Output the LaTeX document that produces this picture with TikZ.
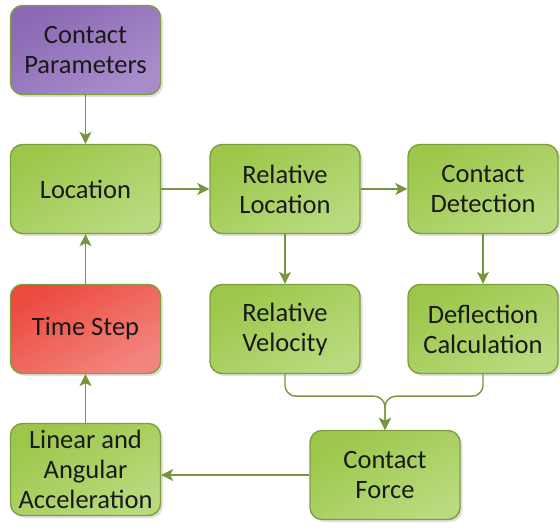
\documentclass[tikz,border=0pt]{standalone}
\usepackage{fontspec}
\setmainfont{Carlito}
\usepackage{tikz}
\usetikzlibrary{arrows.meta}
\usetikzlibrary{shadows}

\definecolor{edgegreen}{HTML}{7F9E3E}
\definecolor{linegreen}{HTML}{77953A}
\definecolor{boxgreenA}{HTML}{9CC74A}
\definecolor{boxgreenB}{HTML}{B9DA7E}
\definecolor{boxredA}{HTML}{EC4A3F}
\definecolor{boxredB}{HTML}{F2867E}
\definecolor{boxpurpleA}{HTML}{8C69B4}
\definecolor{boxpurpleB}{HTML}{A98DCB}

\tikzset{
  block/.style={draw=edgegreen, line width=1.4pt, rounded corners=12pt,
    minimum width=150pt, minimum height=89pt, inner sep=2pt, align=center,
    text=black!90, font=\fontsize{26.5}{30}\selectfont,
    drop shadow={shadow xshift=2.5pt, shadow yshift=-2.5pt, opacity=.25, fill=black!50}},
  greenbox/.style={block, top color=boxgreenA, bottom color=boxgreenB, shading angle=30},
  redbox/.style={block, top color=boxredA, bottom color=boxredB, shading angle=30},
  purplebox/.style={block, top color=boxpurpleA, bottom color=boxpurpleB, shading angle=30},
  flow/.style={draw=linegreen, line width=1.4pt,
    -{Stealth[length=12pt, width=12pt, inset=3pt]}}
}

\begin{document}
\begin{tikzpicture}[x=1pt, y=-1pt]
 \useasboundingbox (0,0) rectangle (560,529);
 % top row and left column
 \node[purplebox] (params) at (85.5,50) {Contact\\Parameters};
 \node[greenbox] (loc) at (85.5,189) {Location};
 \node[greenbox] (relloc) at (285,189) {Relative\\Location};
 \node[greenbox] (detect) at (483,189) {Contact\\Detection};
 \node[redbox] (tstep) at (85.5,329) {Time Step};
 \node[greenbox] (relvel) at (285,329) {Relative\\Velocity};
 \node[greenbox] (deflect) at (483,329) {Deflection\\Calculation};
 \node[greenbox, minimum height=92pt] (accel) at (85.5,469.5) {Linear and\\Angular\\Acceleration};
 \node[greenbox] (force) at (385,475) {Contact\\Force};

 % arrows
 \draw[flow] (params) -- (loc);
 \draw[flow] (loc) -- (relloc);
 \draw[flow] (relloc) -- (detect);
 \draw[flow] (relloc) -- (relvel);
 \draw[flow] (detect) -- (deflect);
 \draw[flow, rounded corners=11pt] (relvel.south) -- ++(0,22) -| (force.north);
 \draw[flow, rounded corners=11pt] (deflect.south) -- ++(0,22) -| (force.north);
 \draw[flow] (force.west) -- (force.west -| accel.east);
 \draw[flow] (accel) -- (tstep);
 \draw[flow] (tstep) -- (loc);
\end{tikzpicture}
\end{document}
